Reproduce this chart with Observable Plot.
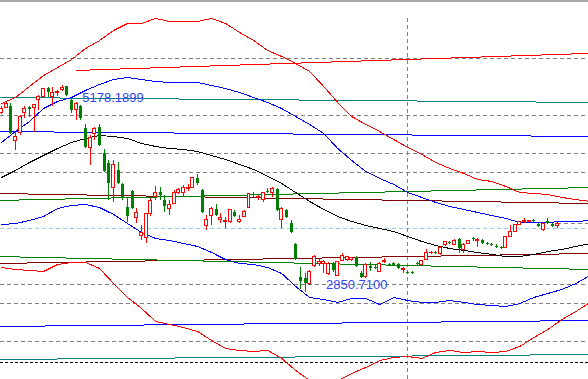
<!DOCTYPE html>
<html><head><meta charset="utf-8">
<script src="https://cdn.jsdelivr.net/npm/d3@7"></script>
<script src="https://cdn.jsdelivr.net/npm/@observablehq/plot@0.6"></script>
<style>html,body{margin:0;padding:0;background:#fff;overflow:hidden}</style>
</head><body><div id="chart"></div>
<script>
// OHLC candles (bar index = position in array)
const open = [4875,4931,4943,4549,4639,4864,4931,4931,5021,5044, 5145,5055,5100,5123,5168,5010,4898,4943,4695,4481, 4628,4706,4414,4301,4031,4223,4065,3806,3986,3683, 3491,3458,3728,3919,3975,3885,3784,3851,3964,3964, 4020,4031,4133,3998,3593,3716,3784,3671,3638,3638, 3750,3638,3705,3806,3953,3908,3896,3986,3964,4009, 3671,3773,3626,3390,3019,3008,2951,3143,3176,3176, 3053,3176,3041,3210,3221,3221,3244,3064,3019,3143, 3131,3086,3188,3165,3176,3165,3098,3075,3075,3176, 3165,3221,3289,3300,3278,3390,3413,3390,3446,3323, 3401,3458,3435,3435,3401,3390,3368,3356,3356,3480, 3536,3615,3638,3638,3660,3615,3548,3649,3615,3593];
const high = [4943,4999,4976,4661,4841,4943,4943,4965,5066,5145, 5156,5156,5123,5178.19,5173,5033,4988,4954,4740,4616, 4706,4740,4459,4335,4335,4313,4076,3908,3998,3795, 3604,3739,3908,4043,4031,3941,3885,3998,4020,4054, 4065,4144,4178,4009,3716,3806,3840,3739,3694,3784, 3773,3716,3773,3964,3975,3941,3975,4020,4031,4020, 3806,3784,3660,3401,3131,3064,3098,3266,3221,3210, 3188,3188,3199,3289,3255,3244,3255,3086,3176,3188, 3154,3188,3233,3176,3188,3176,3131,3086,3086,3188, 3210,3334,3311,3311,3368,3424,3424,3446,3458,3401, 3435,3469,3458,3446,3413,3401,3390,3368,3480,3604, 3615,3649,3683,3660,3671,3626,3638,3683,3626,3638];
const low = [4853,4920,4628,4448,4616,4808,4819,4650,4898,5033, 5044,4943,5055,5111,5055,4864,4785,4785,4470,4279, 4560,4493,4200,3885,3863,4065,3885,3638,3784,3626, 3435,3401,3705,3885,3885,3750,3716,3840,3953,3919, 3986,4020,4054,3739,3548,3604,3705,3626,3570,3626, 3694,3626,3694,3795,3919,3885,3863,3964,3919,3761, 3570,3683,3514,3210,2884,2850.71,2929,3131,3143,3064, 3041,3075,3030,3199,3199,3199,3131,3008,3008,3086, 3109,3075,3176,3143,3143,3109,3064,3053,3053,3154, 3154,3210,3278,3278,3266,3368,3390,3379,3289,3289, 3390,3424,3356,3390,3379,3368,3345,3334,3345,3469, 3525,3604,3626,3626,3638,3581,3536,3615,3581,3570];
const close = [4920,4976,4639,4594,4819,4920,4909,4954,5044,5134, 5100,5100,5111,5156,5066,4898,4976,4808,4481,4583, 4695,4504,4211,4076,4290,4076,3919,3705,3795,3739, 3525,3728,3885,3975,3941,3818,3840,3964,3998,4031, 4031,4133,4076,3750,3671,3795,3716,3683,3649,3773, 3705,3671,3761,3953,3941,3919,3964,3975,4009,3773, 3795,3694,3525,3221,2974,2951,3086,3244,3188,3188, 3176,3098,3188,3266,3244,3233,3143,3019,3165,3120, 3120,3176,3210,3154,3154,3120,3120,3064,3064,3165, 3199,3300,3300,3289,3356,3413,3401,3435,3345,3379, 3424,3446,3446,3401,3390,3379,3356,3345,3469,3536, 3604,3638,3649,3660,3649,3593,3626,3626,3593,3626];

// Band indicator values, sampled every 3 bars
const bandIndex = [0,3,6,9,12,15,18,21,24,27,30,33,36,39,42,45,48,51,54,57,60,63,66,69,72,75,78,81,84,87,90,93,96,99,102,105,108,111,114,117,120,123,126];
const upperOuter = [4976,5044,5168,5291,5381,5471,5595,5685,5798,5876, 5876,5933,5899,5899,5899,5933,5876,5775,5685,5573, 5505,5426,5336,5168,4988,4830,4740,4661,4571,4481, 4403,4313,4245,4189,4121,4099,4043,3975,3964,3953, 3919,3896,3874];
const upperInner = [4538,4661,4774,4920,4999,5044,5123,5190,5246,5269, 5246,5224,5213,5213,5213,5179,5145,5100,5044,4988, 4920,4830,4740,4639,4470,4335,4211,4133,4065,3975, 3919,3863,3818,3784,3750,3716,3683,3638,3638,3638, 3649,3649,3660];
const middle = [4144,4223,4313,4391,4470,4538,4583,4616,4605,4583, 4526,4493,4470,4459,4436,4391,4346,4290,4234,4155, 4076,3975,3874,3784,3705,3649,3604,3570,3536,3480, 3424,3379,3345,3323,3300,3278,3255,3255,3278,3311, 3334,3368,3401];
const lowerInner = [3615,3626,3660,3705,3795,3829,3840,3806,3728,3626, 3525,3458,3435,3401,3368,3300,3221,3176,3165,3131, 3064,2918,2794,2771,2738,2783,2783,2715,2794,2760, 2738,2738,2760,2738,2715,2704,2693,2726,2794,2839, 2884,2951,3041];
const lowerOuter = [3131,3109,3098,3086,3165,3188,3188,3120,2951,2794, 2670,2524,2490,2456,2411,2310,2220,2198,2186,2198, 2108,1973,1860,1725,1860,1939,2006,2085,2119,2130, 2108,2175,2198,2175,2186,2175,2186,2243,2344,2434, 2546,2636,2738];

// Trend lines (start bar, end bar, start value, end value)
const trendStartBar = [16,-1,-1,-1,-1,-1,-1,-1,-1];
const trendEndBar = [126,126,126,126,126,126,126,126,126];
const trendStartValue = [5348,5044,4661,3964,3885,3176,3255,2467.5,2096];
const trendEndValue = [5540,4988,4605,3851,4031,3289,3109,2535,2152.5];
const trendColor = ["#ff0000","#008080","#0000ff","#800000","#008000","#800000","#008000","#0000ff","#008080"];

// Horizontal levels
const grayLevels = [5482.5,4841,4414,4200,2940,2726,2299];
const blueLevel = [3570];
const blackLevel = [2062.5];
const separatorBar = 87;
const separatorTop = 5944;
const yMin = 1871.25, yMax = 6135;

const highLabel = "5178.1899";
const lowLabel = "2850.7100";

const candles = open.map((o, i) => ({i, open: o, high: high[i], low: low[i], close: close[i]}));
const up = candles.filter(d => d.close >= d.open);
const down = candles.filter(d => d.close < d.open);
const bands = bandIndex.map((b, k) => ({i: b, uo: upperOuter[k], ui: upperInner[k], m: middle[k], li: lowerInner[k], lo: lowerOuter[k]}));
const trends = trendStartBar.map((s, k) => ({s, e: trendEndBar[k], a: trendStartValue[k], b: trendEndValue[k], c: trendColor[k]}));
const hiIdx = high.indexOf(d3.max(high));
const loIdx = low.indexOf(d3.min(low));
const last = candles[candles.length - 1];

const chart = Plot.plot({
  width: 588, height: 379, margin: 0,
  x: {domain: [-0.2143, 125.7], axis: null},
  y: {domain: [yMin, yMax], axis: null},
  style: {background: "#fff", shapeRendering: "crispEdges"},
  marks: [
    Plot.ruleY(grayLevels, {stroke: "#808080", strokeDasharray: "4,3"}),
    Plot.ruleY(blueLevel, {stroke: "#99c9f2", strokeDasharray: "4,3"}),
    Plot.ruleY(blackLevel, {stroke: "#000", strokeDasharray: "3,2"}),
    Plot.ruleX([separatorBar], {y1: yMin, y2: separatorTop, stroke: "#808080", strokeDasharray: "4,3"}),
    Plot.ruleY([last.close], {x1: last.i, x2: 126, stroke: "#808080", strokeDasharray: "4,3"}),
    Plot.link(trends, {x1: "s", x2: "e", y1: "a", y2: "b", stroke: d => d.c, strokeWidth: 1}),
    Plot.line(bands, {x: "i", y: "uo", stroke: "#ff0000", strokeWidth: 1, clip: true}),
    Plot.line(bands, {x: "i", y: "ui", stroke: "#0000ff", strokeWidth: 1, clip: true}),
    Plot.line(bands, {x: "i", y: "m", stroke: "#000000", strokeWidth: 1, clip: true}),
    Plot.line(bands, {x: "i", y: "li", stroke: "#0000ff", strokeWidth: 1, clip: true}),
    Plot.line(bands, {x: "i", y: "lo", stroke: "#ff0000", strokeWidth: 1, clip: true}),
    Plot.ruleX(up, {x: "i", y1: "low", y2: "high", stroke: "#ff0000"}),
    Plot.ruleX(down, {x: "i", y1: "low", y2: "high", stroke: "#008000"}),
    Plot.rect(up, {x1: d => d.i - 0.32, x2: d => d.i + 0.32, y1: "open", y2: "close", fill: "#fff", stroke: "#ff0000"}),
    Plot.ruleX(down, {x: "i", y1: "open", y2: "close", stroke: "#008000", strokeWidth: 3}),
    Plot.text([candles[hiIdx]], {x: "i", y: "high", text: () => highLabel, dx: 20, dy: 12, textAnchor: "start", fill: "#3346f0", fontSize: 13, fontFamily: "Liberation Sans, Arial, sans-serif"}),
    Plot.text([candles[loIdx]], {x: "i", y: "low", text: () => lowLabel, dx: 21, dy: -8, textAnchor: "start", fill: "#3346f0", fontSize: 13, fontFamily: "Liberation Sans, Arial, sans-serif"}),
    Plot.ruleY([yMax], {stroke: "#aaaaaa", strokeWidth: 2})
  ]
});
document.getElementById("chart").appendChild(chart);
</script>
</body></html>
